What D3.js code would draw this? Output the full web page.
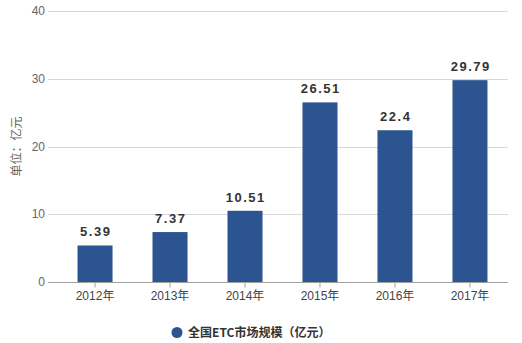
<!DOCTYPE html>
<html><head><meta charset="utf-8">
<script src="https://cdn.jsdelivr.net/npm/d3@7"></script>
<style>body{margin:0;background:#fff;}svg{display:block;font-family:"Liberation Sans",Arial,sans-serif;}</style>
</head><body><svg id="c" width="522" height="343"></svg>
<script>
const categories = ["2012年","2013年","2014年","2015年","2016年","2017年"];
const values = [5.39, 7.37, 10.51, 26.51, 22.4, 29.79];
const yTicks = [0, 10, 20, 30, 40];
const seriesName = "全国ETC市场规模（亿元）";
const yTitle = "单位：亿元";

const svg = d3.select("#c");
const plotL = 48, plotR = 508;
const x = d3.scaleBand().domain(categories).range([57.5, 507.5]).paddingInner(0.533).paddingOuter(0.267);
const y = d3.scaleLinear().domain([0, 40]).range([282, 11]);

// gridlines
svg.append("g").selectAll("line").data(yTicks.filter(d => d > 0)).join("line")
  .attr("x1", plotL).attr("x2", plotR)
  .attr("y1", d => Math.round(y(d)) + 0.5).attr("y2", d => Math.round(y(d)) + 0.5)
  .attr("stroke", "#d8d8d8").attr("stroke-width", 1);

// y labels
svg.append("g").selectAll("text").data(yTicks).join("text")
  .attr("x", 45).attr("y", d => y(d) + 4)
  .attr("text-anchor", "end").attr("font-size", 12).attr("fill", "#666")
  .text(d => d);

// y title
svg.append("text")
  .attr("transform", `translate(21,${y(20)}) rotate(-90)`)
  .attr("text-anchor", "middle").attr("font-size", 12).attr("fill", "#666")
  .attr("font-family", "'Noto Sans CJK SC',sans-serif")
  .text(yTitle);

// bars
svg.append("g").selectAll("rect").data(values).join("rect")
  .attr("x", (d, i) => x(categories[i]))
  .attr("width", x.bandwidth())
  .attr("y", d => y(d))
  .attr("height", d => y(0) - y(d))
  .attr("fill", "#2c5490");

// value labels
svg.append("g").selectAll("text").data(values).join("text")
  .attr("x", (d, i) => x(categories[i]) + x.bandwidth() / 2 + 0.75)
  .attr("y", d => y(d) - 9)
  .attr("text-anchor", "middle").attr("font-size", 13).attr("font-weight", "bold")
  .attr("letter-spacing", "1.5px").attr("fill", "#333")
  .text(d => d);

// x axis
const xAxis = d3.axisBottom(x).tickSize(5).tickSizeOuter(0).tickPadding(4);
const gx = svg.append("g").attr("transform", "translate(0,282.5)").call(xAxis);
gx.select(".domain").attr("d", `M${plotL},0H${plotR}`).attr("stroke", "#a0a0a0");
gx.selectAll(".tick line").attr("stroke", "#a0a0a0");
gx.selectAll(".tick text").attr("font-size", 12).attr("fill", "#444")
  .attr("font-family", "'Liberation Sans','Noto Sans CJK SC',sans-serif");

// legend
const lg = svg.append("g");
lg.append("circle").attr("cx", 177).attr("cy", 332.5).attr("r", 5.5).attr("fill", "#2c5490");
lg.append("text").attr("x", 188).attr("y", 337).attr("font-size", 12).attr("font-weight", "bold")
  .attr("fill", "#333").attr("font-family", "'Noto Sans CJK SC',sans-serif").text(seriesName);
</script></body></html>
